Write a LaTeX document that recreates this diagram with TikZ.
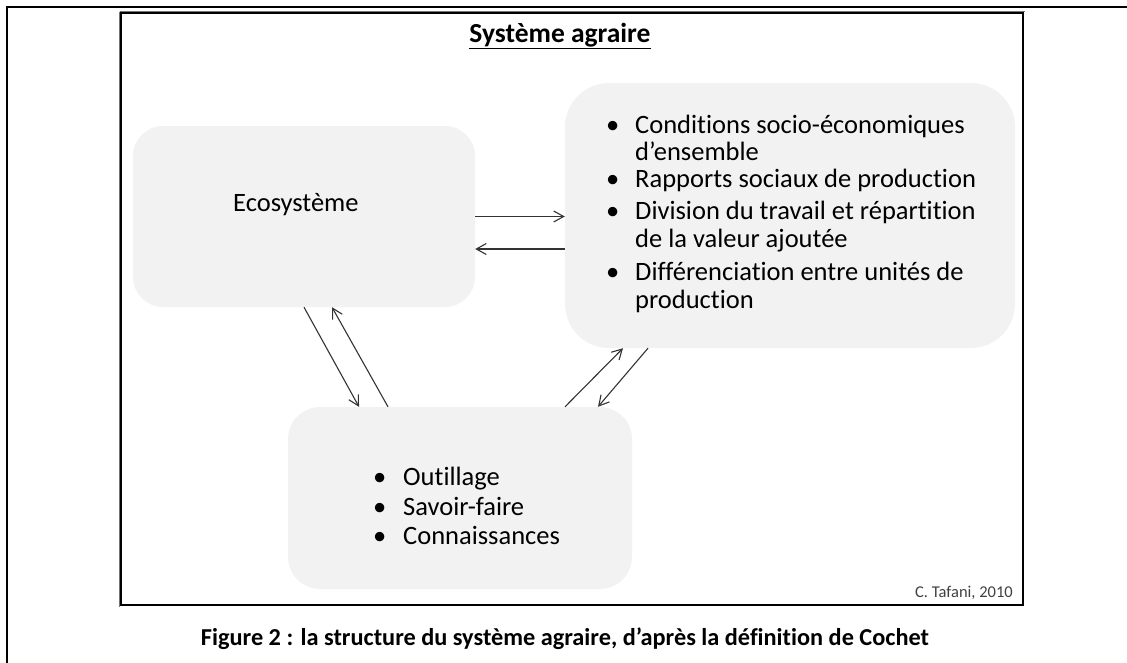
\documentclass[tikz,border=0pt]{standalone}
\usepackage{fontspec}
\setmainfont{Carlito}[Ligatures=NoCommon]
\usetikzlibrary{arrows.meta}
\definecolor{boxgray}{HTML}{F2F2F2}
\definecolor{arrowgray}{HTML}{333333}
\definecolor{creditgray}{HTML}{404040}
\begin{document}
\begin{tikzpicture}[x=1pt,y=-1pt,
  panel/.style={fill=boxgray, draw=none, inner sep=0pt},
  txt/.style={anchor=base west, inner sep=0pt, font=\fontsize{26.5}{30}\selectfont},
  bul/.style={anchor=base west, inner sep=0pt, font=\fontsize{26.5}{30}\selectfont},
  link/.style={draw=arrowgray, line width=1.1pt, -{Straight Barb[length=10pt,width=11pt]}},
]
\useasboundingbox (0,0) rectangle (1127,662);
% frames
\draw[line width=2pt] (7,7) rectangle (1145,680);
\draw[black!55, line width=1pt] (119.5,11.5) -- (1024.5,11.5);
\draw[black!55, line width=1pt] (119.5,11.5) -- (119.5,606.5);
\draw[line width=2.2pt] (121,13) rectangle (1023,605);
% boxes
\node[panel, minimum width=342pt, minimum height=181pt, rounded corners=30pt] (eco) at (304,216.5) {};
\node[panel, minimum width=450pt, minimum height=265pt, rounded corners=44pt] (soc) at (790,215.5) {};
\node[panel, minimum width=344pt, minimum height=182pt, rounded corners=32pt] (tech) at (460,498) {};
% title
\node[anchor=base, inner sep=0pt, font=\bfseries\fontsize{27.5}{31}\selectfont] (title) at (560,42) {\underline{Système agraire}};
% ecosystem text
\node[txt] (ecotxt) at (233,211) {Ecosystème};
% socio-economic list
\node[bul] (b1) at (606,133) {•};
\node[txt] (s1) at (635,133) {Conditions socio-économiques};
\node[txt] (s1b) at (635,160) {d’ensemble};
\node[bul] (b2) at (606,187) {•};
\node[txt] (s2) at (635,187) {Rapports sociaux de production};
\node[bul] (b3) at (606,219) {•};
\node[txt] (s3) at (635,219) {Division du travail et répartition};
\node[txt] (s3b) at (635,247) {de la valeur ajoutée};
\node[bul] (b4) at (606,280) {•};
\node[txt] (s4) at (635,280) {Différenciation entre unités de};
\node[txt] (s4b) at (635,308) {production};
% technical list
\node[bul] (t1b) at (373,485) {•};
\node[txt] (t1) at (403,485) {Outillage};
\node[bul] (t2b) at (373,515) {•};
\node[txt] (t2) at (403,515) {Savoir-faire};
\node[bul] (t3b) at (373,544) {•};
\node[txt] (t3) at (403,544) {Connaissances};
% arrows
\draw[link] (eco.east) -- (eco.east -| soc.west);
\draw[link] ([yshift=-33.5pt]soc.west) -- ([yshift=-33.5pt]soc.west -| eco.east);
\draw[link] (eco.south) -- ([xshift=-101pt]tech.north);
\draw[link] ([xshift=-72pt]tech.north) -- ([xshift=28pt]eco.south);
\draw[link] ([xshift=105pt]tech.north) -- ([xshift=-167pt]soc.south);
\draw[link] ([xshift=-142pt]soc.south) -- ([xshift=138pt]tech.north);
% credit and caption
\node[anchor=base east, inner sep=0pt, text=creditgray, font=\fontsize{16.5}{20}\selectfont] (credit) at (1013,597) {C. Tafani, 2010};
\node[anchor=base, inner sep=0pt, font=\bfseries\fontsize{24.3}{28}\selectfont] (caption) at (565,645) {Figure 2 : la structure du système agraire, d’après la définition de Cochet};
\end{tikzpicture}
\end{document}
